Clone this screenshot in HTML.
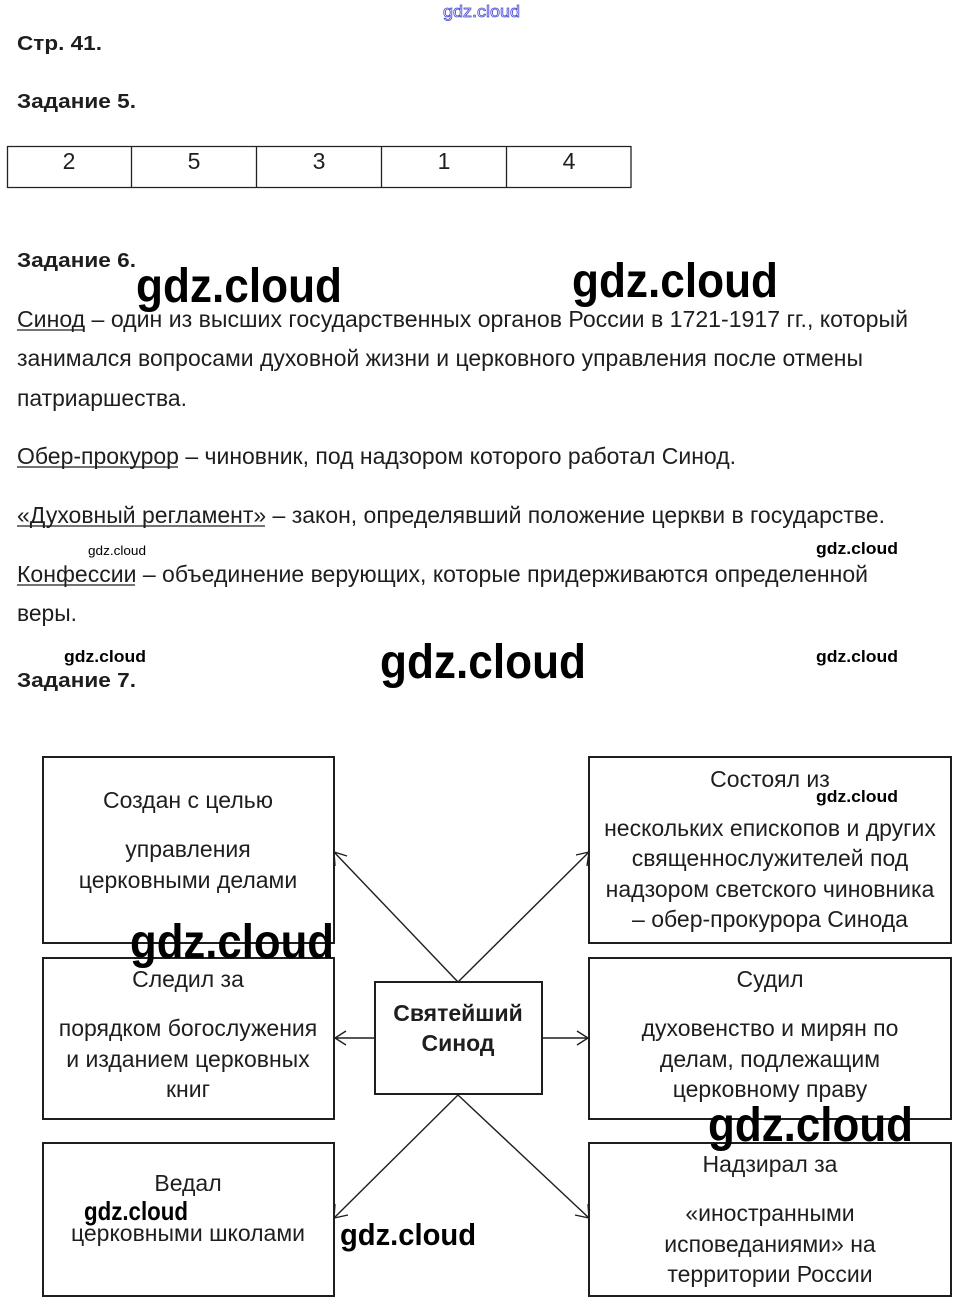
<!DOCTYPE html>
<html><head><meta charset="utf-8"><style>
html,body{margin:0;padding:0;background:#fff;}
svg{display:block;}
.t{font-family:"Liberation Sans",Arial,sans-serif;font-size:20px;fill:#1e1e1e;}
.bx{font-family:"Liberation Sans",Arial,sans-serif;font-size:23px;fill:#1e1e1e;}
.b{font-family:"Liberation Sans",Arial,sans-serif;font-size:20px;font-weight:bold;fill:#1e1e1e;}
.bb{font-family:"Liberation Sans",Arial,sans-serif;font-size:23px;font-weight:bold;fill:#1e1e1e;}
.w{font-family:"Liberation Sans",Arial,sans-serif;fill:#000;font-weight:bold;}
.c{text-anchor:middle;}
</style></head><body>
<svg width="962" height="1312" viewBox="0 0 962 1312" xmlns="http://www.w3.org/2000/svg">
<text x="443" y="17" font-family="Liberation Sans, sans-serif" font-size="17" fill="none" stroke="#4a4ad8" stroke-width="0.8" textLength="77" lengthAdjust="spacingAndGlyphs">gdz.cloud</text>

<text x="17" y="50" class="b" textLength="85" lengthAdjust="spacingAndGlyphs">Стр. 41.</text>
<text x="17" y="108" class="b" textLength="119" lengthAdjust="spacingAndGlyphs">Задание 5.</text>

<g stroke="#222" stroke-width="1.3" fill="none">
<line x1="7" y1="146.5" x2="631" y2="146.5"/>
<line x1="7" y1="187.5" x2="631" y2="187.5"/>
<line x1="7.5" y1="146" x2="7.5" y2="188"/>
<line x1="131.5" y1="146" x2="131.5" y2="188"/>
<line x1="256.5" y1="146" x2="256.5" y2="188"/>
<line x1="381.5" y1="146" x2="381.5" y2="188"/>
<line x1="506.5" y1="146" x2="506.5" y2="188"/>
<line x1="631" y1="146" x2="631" y2="188"/>
</g>
<text x="69" y="169" class="bx c">2</text>
<text x="194" y="169" class="bx c">5</text>
<text x="319" y="169" class="bx c">3</text>
<text x="444" y="169" class="bx c">1</text>
<text x="569" y="169" class="bx c">4</text>

<text x="17" y="267" class="b" textLength="119" lengthAdjust="spacingAndGlyphs">Задание 6.</text>

<text x="17" y="327" class="bx" textLength="891" lengthAdjust="spacingAndGlyphs">Синод – один из высших государственных органов России в 1721-1917 гг., который</text>
<line x1="17" y1="330" x2="84" y2="330" stroke="#222" stroke-width="1.2"/>
<text x="17" y="366" class="bx" textLength="846" lengthAdjust="spacingAndGlyphs">занимался вопросами духовной жизни и церковного управления после отмены</text>
<text x="17" y="406" class="bx" textLength="170" lengthAdjust="spacingAndGlyphs">патриаршества.</text>
<text x="17" y="464" class="bx" textLength="719" lengthAdjust="spacingAndGlyphs">Обер-прокурор – чиновник, под надзором которого работал Синод.</text>
<line x1="17" y1="467" x2="178" y2="467" stroke="#222" stroke-width="1.2"/>
<text x="17" y="523" class="bx" textLength="868" lengthAdjust="spacingAndGlyphs">«Духовный регламент» – закон, определявший положение церкви в государстве.</text>
<line x1="17" y1="526" x2="265" y2="526" stroke="#222" stroke-width="1.2"/>
<text x="17" y="582" class="bx" textLength="851" lengthAdjust="spacingAndGlyphs">Конфессии – объединение верующих, которые придерживаются определенной</text>
<line x1="17" y1="585" x2="135" y2="585" stroke="#222" stroke-width="1.2"/>
<text x="17" y="621" class="bx" textLength="60" lengthAdjust="spacingAndGlyphs">веры.</text>

<text x="17" y="687" class="b" textLength="119" lengthAdjust="spacingAndGlyphs">Задание 7.</text>

<g stroke="#1e1e1e" stroke-width="2" fill="none">
<rect x="43" y="757" width="291" height="186"/>
<rect x="43" y="958" width="291" height="161"/>
<rect x="43" y="1143" width="291" height="153"/>
<rect x="589" y="757" width="362" height="186"/>
<rect x="589" y="958" width="362" height="161"/>
<rect x="589" y="1143" width="362" height="153"/>
<rect x="375" y="982" width="167" height="112"/>
</g>
<g stroke="#1e1e1e" stroke-width="1.4" fill="none">
<line x1="458" y1="982" x2="334" y2="852"/>
<line x1="458" y1="982" x2="589" y2="852"/>
<line x1="458" y1="1095" x2="334" y2="1218"/>
<line x1="458" y1="1095" x2="589" y2="1218"/>
<line x1="375" y1="1038" x2="334" y2="1038"/>
<line x1="542" y1="1038" x2="589" y2="1038"/>
<polyline points="335,866 334,852 347,856"/>
<polyline points="576,855 589,852 587,866"/>
<polyline points="335,1204 334,1218 348,1215"/>
<polyline points="575,1215 589,1218 588,1204"/>
<polyline points="346,1031 335,1038 346,1045"/>
<polyline points="577,1031 588,1038 577,1045"/>
</g>

<text x="188" y="808" class="bx c">Создан с целью</text>
<text x="188" y="857" class="bx c">управления</text>
<text x="188" y="888" class="bx c">церковными делами</text>

<text x="770" y="787" class="bx c">Состоял из</text>
<text x="770" y="836" class="bx c">нескольких епископов и других</text>
<text x="770" y="866" class="bx c">священнослужителей под</text>
<text x="770" y="897" class="bx c">надзором светского чиновника</text>
<text x="770" y="927" class="bx c">– обер-прокурора Синода</text>

<text x="188" y="987" class="bx c">Следил за</text>
<text x="188" y="1036" class="bx c">порядком богослужения</text>
<text x="188" y="1067" class="bx c">и изданием церковных</text>
<text x="188" y="1097" class="bx c">книг</text>

<text x="770" y="987" class="bx c">Судил</text>
<text x="770" y="1036" class="bx c">духовенство и мирян по</text>
<text x="770" y="1067" class="bx c">делам, подлежащим</text>
<text x="770" y="1097" class="bx c">церковному праву</text>

<text x="188" y="1191" class="bx c">Ведал</text>
<text x="188" y="1241" class="bx c">церковными школами</text>

<text x="770" y="1172" class="bx c">Надзирал за</text>
<text x="770" y="1221" class="bx c">«иностранными</text>
<text x="770" y="1252" class="bx c">исповеданиями» на</text>
<text x="770" y="1282" class="bx c">территории России</text>

<text x="458" y="1021" class="bb c">Святейший</text>
<text x="458" y="1051" class="bb c">Синод</text>

<text x="136" y="302" class="w" font-size="48" textLength="206" lengthAdjust="spacingAndGlyphs">gdz.cloud</text>
<text x="572" y="297" class="w" font-size="48" textLength="206" lengthAdjust="spacingAndGlyphs">gdz.cloud</text>
<text x="380" y="678" class="w" font-size="48" textLength="206" lengthAdjust="spacingAndGlyphs">gdz.cloud</text>
<text x="130" y="958" class="w" font-size="48" textLength="204" lengthAdjust="spacingAndGlyphs">gdz.cloud</text>
<text x="708" y="1141" class="w" font-size="48" textLength="205" lengthAdjust="spacingAndGlyphs">gdz.cloud</text>
<text x="340" y="1245" class="w" font-size="31" textLength="136" lengthAdjust="spacingAndGlyphs">gdz.cloud</text>
<text x="84" y="1220" class="w" font-size="26" textLength="104" lengthAdjust="spacingAndGlyphs">gdz.cloud</text>
<text x="816" y="554" class="w" font-size="17" textLength="82" lengthAdjust="spacingAndGlyphs">gdz.cloud</text>
<text x="88" y="555" font-family="Liberation Sans, sans-serif" font-size="13" textLength="58" lengthAdjust="spacingAndGlyphs">gdz.cloud</text>
<text x="64" y="662" class="w" font-size="17" textLength="82" lengthAdjust="spacingAndGlyphs">gdz.cloud</text>
<text x="816" y="662" class="w" font-size="17" textLength="82" lengthAdjust="spacingAndGlyphs">gdz.cloud</text>
<text x="816" y="802" class="w" font-size="17" textLength="82" lengthAdjust="spacingAndGlyphs">gdz.cloud</text>
</svg>
</body></html>
